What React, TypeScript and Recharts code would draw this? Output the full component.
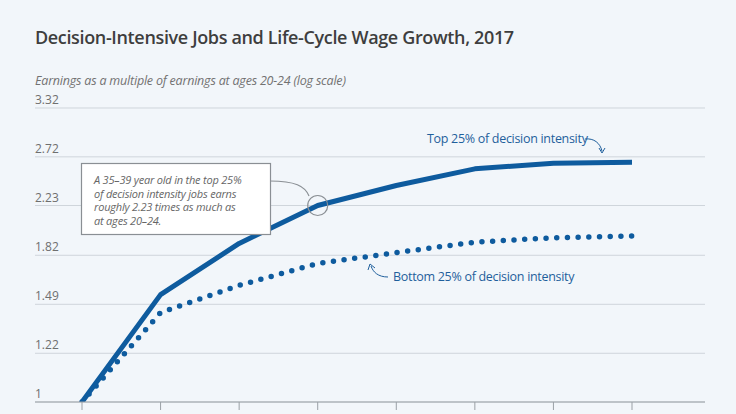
import { LineChart, Line, XAxis, YAxis, CartesianGrid, ReferenceDot } from "recharts";

const ages = ["20-24", "25-29", "30-34", "35-39", "40-44", "45-49", "50-54", "55-59"];
const topQuartile = [1, 1.55, 1.91, 2.23, 2.42, 2.59, 2.65, 2.66];
const bottomQuartile = [1, 1.44, 1.61, 1.76, 1.84, 1.92, 1.955, 1.97];
const yTicks = [1, 1.22, 1.49, 1.82, 2.23, 2.72, 3.32];

const data = ages.map((age, i) => ({ age, top: topQuartile[i], bottom: bottomQuartile[i] }));

const BLUE = "#0e5b9e";
const FONT = "'Open Sans', 'Noto Sans', sans-serif";

function YTick(props: any) {
  const { y, payload } = props;
  return (
    <text x={35} y={y - 4} fill="#6f6f6f" fontSize={12} fontFamily={FONT} textAnchor="start">
      {payload.value}
    </text>
  );
}

export default function App() {
  return (
    <div style={{ position: "relative", width: 736, height: 414, background: "#f2f6fa", overflow: "hidden" }}>
      <style>{`body{margin:0}`}</style>
      <div
        style={{
          position: "absolute",
          left: 35,
          top: 25,
          fontFamily: FONT,
          fontWeight: 600,
          fontSize: 18,
          color: "#3e3e3e",
          letterSpacing: -0.35,
        }}
      >
        Decision-Intensive Jobs and Life-Cycle Wage Growth, 2017
      </div>
      <div
        style={{
          position: "absolute",
          left: 35,
          top: 73,
          fontFamily: FONT,
          fontStyle: "italic",
          fontSize: 12.5,
          lineHeight: "15px",
          color: "#727272",
          letterSpacing: -0.2,
        }}
      >
        Earnings as a multiple of earnings at ages 20-24 (log scale)
      </div>
      <LineChart
        width={736}
        height={414}
        data={data}
        margin={{ top: 108, right: 31, bottom: 0, left: 0 }}
        style={{ position: "absolute", left: 0, top: 0 }}
      >
        <CartesianGrid vertical={false} stroke="#cfd5db" strokeWidth={1} />
        <XAxis
          dataKey="age"
          height={12}
          padding={{ left: 47, right: 73 }}
          tickSize={8}
          tick={() => <g />}
          axisLine={{ stroke: "#9aa0a6" }}
          tickLine={{ stroke: "#9aa0a6" }}
        />
        <YAxis
          scale="log"
          domain={[1, 3.32]}
          ticks={yTicks}
          width={35}
          axisLine={false}
          tickLine={false}
          tick={(p: any) => <YTick {...p} />}
          interval={0}
          allowDataOverflow
        />
        <Line
          dataKey="bottom"
          stroke={BLUE}
          strokeWidth={5.5}
          strokeDasharray="0 10.7"
          strokeLinecap="round"
          dot={false}
          isAnimationActive={false}
        />
        <Line
          dataKey="top"
          stroke={BLUE}
          strokeWidth={5}
          strokeLinejoin="round"
          dot={false}
          isAnimationActive={false}
        />
        <ReferenceDot x="35-39" y={2.23} r={10} fill="none" stroke="#8a8f94" strokeWidth={1.2} />
      </LineChart>
      <svg width={736} height={414} style={{ position: "absolute", left: 0, top: 0, pointerEvents: "none" }}>
        <path d="M270 181 C 295 181, 305 186, 309 196" fill="none" stroke="#8a8f94" strokeWidth={1.2} />
        <rect x={81.5} y={163.5} width={189} height={71} fill="#ffffff" stroke="#8a8f94" strokeWidth={1.2} />
        <text fontFamily={FONT} fontStyle="italic" fontSize={11} fill="#666" letterSpacing={-0.2}>
          <tspan x={94} y={184}>A 35–39 year old in the top 25%</tspan>
          <tspan x={94} y={197.5}>of decision intensity jobs earns</tspan>
          <tspan x={94} y={211}>roughly 2.23 times as much as</tspan>
          <tspan x={94} y={224.5}>at ages 20–24.</tspan>
        </text>
        <text x={427} y={143} fontFamily={FONT} fontSize={12.5} fill="#1f5f9c" letterSpacing={-0.3}>
          Top 25% of decision intensity
        </text>
        <path d="M585 139 C 594 138, 600 143, 602 151" fill="none" stroke="#1f5f9c" strokeWidth={1} />
        <path d="M599 148 L602 153 L605 148" fill="none" stroke="#1f5f9c" strokeWidth={1} />
        <text x={393} y={281} fontFamily={FONT} fontSize={12.5} fill="#1f5f9c" letterSpacing={-0.3}>
          Bottom 25% of decision intensity
        </text>
        <path d="M388 277 C 378 277, 373 272, 371 266" fill="none" stroke="#1f5f9c" strokeWidth={1} />
        <path d="M368 270 L370 264 L375 268" fill="none" stroke="#1f5f9c" strokeWidth={1} />
      </svg>
    </div>
  );
}
